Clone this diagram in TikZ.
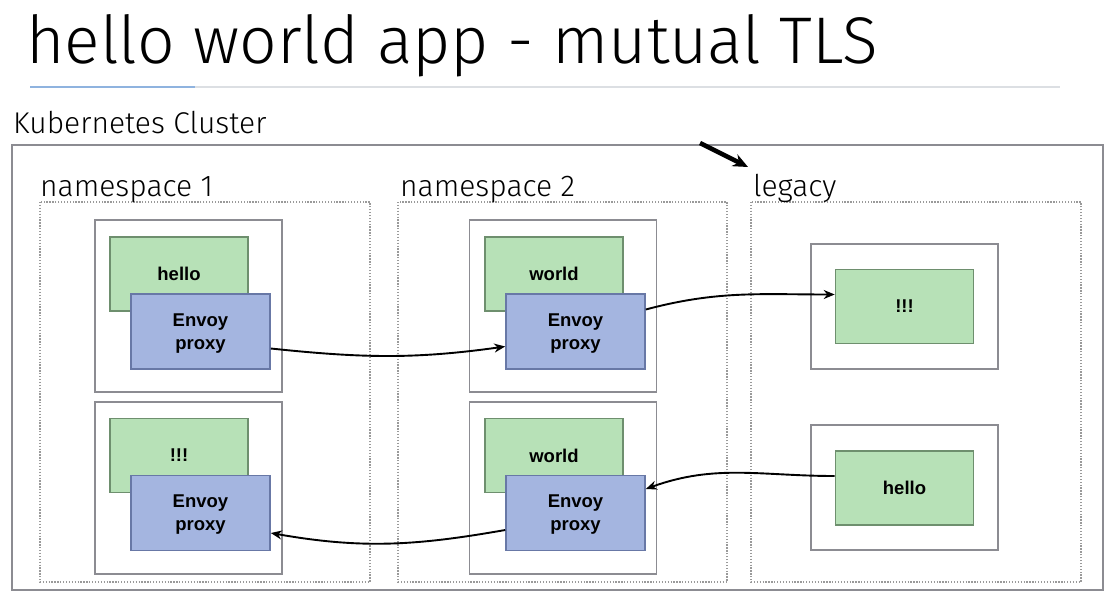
\documentclass[tikz,border=0pt]{standalone}
\usepackage{fontspec}
\setmainfont{Liberation Sans}
\newfontfamily\titlefont{Fira Sans Light}
\usetikzlibrary{arrows.meta}
\definecolor{podgray}{HTML}{8C8C92}
\definecolor{nsgray}{HTML}{9A9A9A}
\definecolor{gfill}{HTML}{B7E1B7}
\definecolor{gdraw}{HTML}{6E8F6E}
\definecolor{bfill}{HTML}{A4B5E0}
\definecolor{bdraw}{HTML}{6878A6}
\definecolor{rulegray}{HTML}{DCDFE3}
\definecolor{ruleblue}{HTML}{8FB3DF}
\begin{document}
\begin{tikzpicture}[x=1pt,y=-1pt,
  pod/.style={draw=podgray, line width=1.8pt, fill=white, minimum width=187pt, inner sep=0pt},
  app/.style={draw=gdraw, line width=1.6pt, fill=gfill, minimum width=138pt, minimum height=74pt, inner sep=0pt, font=\fontsize{18.5}{22}\selectfont\bfseries},
  envoy/.style={draw=bdraw, line width=1.6pt, fill=bfill, minimum width=139pt, minimum height=75pt, inner sep=0pt, text depth=0pt, align=center, font=\fontsize{18.5}{23}\selectfont\bfseries},
  nsbox/.style={draw=nsgray, line width=1.3pt, dash pattern=on 1.3pt off 1.6pt},
  nslabel/.style={anchor=base west, inner sep=0pt, font=\titlefont\fontsize{30}{33}\selectfont},
  flow/.style={-{Stealth[length=11pt,width=9pt]}, line width=1.9pt, black}
]
\useasboundingbox (0,0) rectangle (1115,599);
\fill[white] (0,0) rectangle (1115,599);
% title
\node[anchor=base west, inner sep=0pt, font=\titlefont\fontsize{66}{72}\selectfont] (title) at (26,64) {hello world app - mutual TLS};
\draw[rulegray, line width=2pt] (30,87) -- (1060,87);
\draw[ruleblue, line width=2pt] (30,87) -- (195,87);
% cluster
\node[nslabel] (kc) at (13,133) {Kubernetes Cluster};
\draw[podgray, line width=1.8pt] (12,145) rectangle (1103,590);
% namespaces
\draw[nsbox] (40,202) rectangle (370,582);
\draw[nsbox] (398,202) rectangle (727,582);
\draw[nsbox] (751,202) rectangle (1081,582);
\node[nslabel] (ns1) at (40,196) {namespace 1};
\node[nslabel] (ns2) at (400,196) {namespace 2};
\node[nslabel] (ns3) at (753,196) {legacy};
% pointer arrow
\coordinate (pa) at (700,143);
\coordinate (pb) at (748,167);
\draw[-{Stealth[length=15pt,width=13pt]}, line width=4.5pt] (pa) -- (pb);
% pods
\node[pod, minimum height=172pt] (p1) at (188.5,306) {};
\node[pod, minimum height=172pt] (p2) at (188.5,488) {};
\node[pod, minimum height=172pt] (p3) at (563,306) {};
\node[pod, minimum height=172pt] (p4) at (563,488) {};
\node[pod, minimum height=125pt] (p5) at (904.5,306.5) {};
\node[pod, minimum height=125pt] (p6) at (904.5,487.5) {};
% containers
\node[app] (g1) at (179,274) {hello};
\node[envoy] (b1) at (200.5,331.5) {Envoy\\proxy};
\node[app] (g2) at (179,455.5) {!!!};
\node[envoy] (b2) at (200.5,513) {Envoy\\proxy};
\node[app] (g3) at (554,274) {world};
\node[envoy] (b3) at (575.5,331.5) {Envoy\\proxy};
\node[app] (g4) at (554,455.5) {world};
\node[envoy] (b4) at (575.5,513) {Envoy\\proxy};
\node[app] (g5) at (904.5,306.5) {!!!};
\node[app] (g6) at (904.5,488) {hello};
% flows
\draw[flow] ([yshift=-17pt]b1.east) to[out=-6,in=188] ([yshift=-15pt]b3.west);
\draw[flow] ([yshift=22pt]b3.east) to[out=15,in=180] ([yshift=12pt]g5.west);
\draw[flow] ([yshift=12pt]g6.west) to[out=180,in=20] ([yshift=24pt]b4.east);
\draw[flow] ([yshift=-17pt]b4.west) to[out=190,in=-10] ([yshift=-20pt]b2.east);
\end{tikzpicture}
\end{document}
